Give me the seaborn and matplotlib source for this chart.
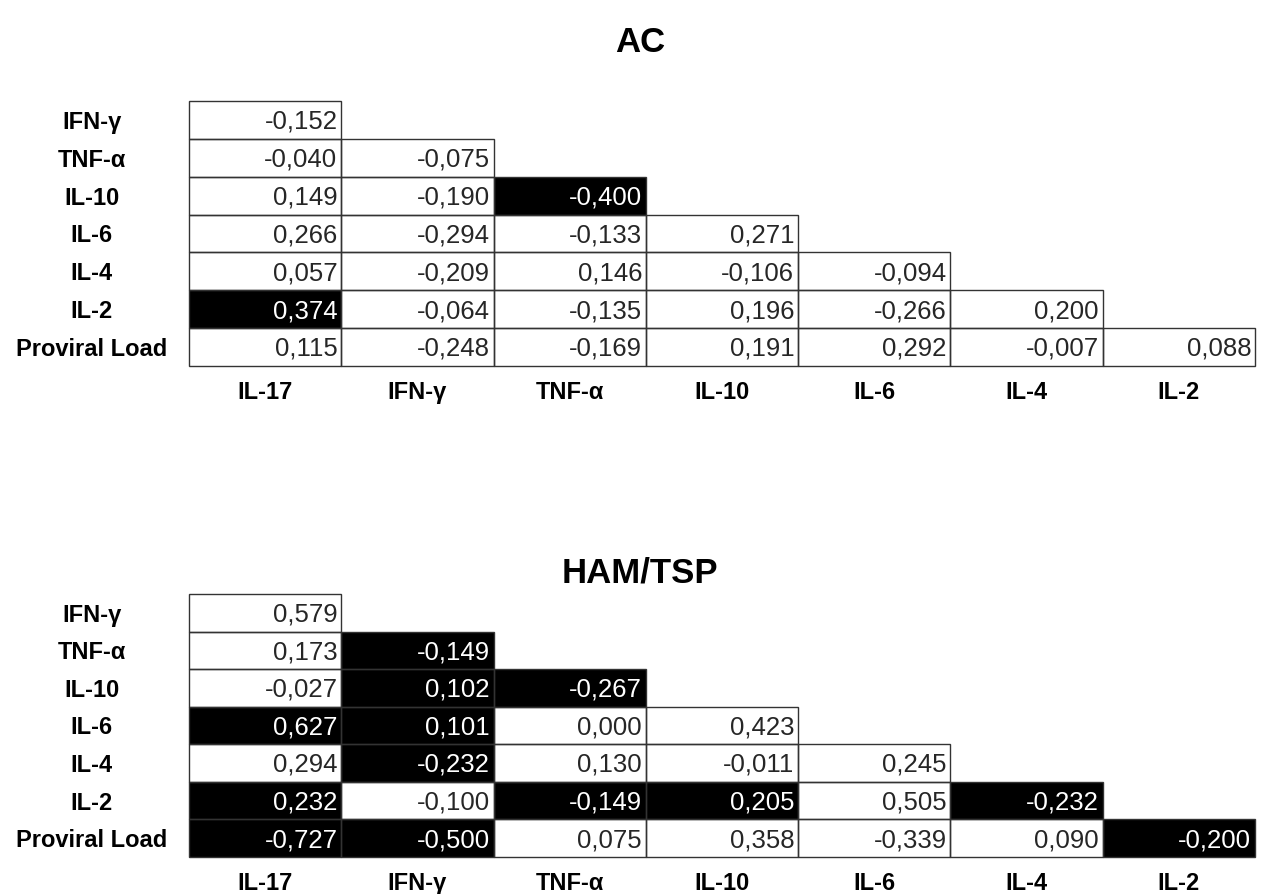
import matplotlib
matplotlib.use("Agg")
import matplotlib.pyplot as plt
from matplotlib.patches import Rectangle
import numpy as np
import pandas as pd
import seaborn as sns

# ─── Dados ────────────────────────────────────────────────────────────────────

row_labels = ["IFN-γ", "TNF-α", "IL-10", "IL-6", "IL-4", "IL-2", "Proviral Load"]
col_labels = ["IL-17", "IFN-γ", "TNF-α", "IL-10", "IL-6", "IL-4", "IL-2"]

# correlações (triângulo inferior, None = vazio)
ac_values = [
    [-0.152, None, None, None, None, None, None],
    [-0.040, -0.075, None, None, None, None, None],
    [0.149, -0.190, -0.400, None, None, None, None],
    [0.266, -0.294, -0.133, 0.271, None, None, None],
    [0.057, -0.209, 0.146, -0.106, -0.094, None, None],
    [0.374, -0.064, -0.135, 0.196, -0.266, 0.200, None],
    [0.115, -0.248, -0.169, 0.191, 0.292, -0.007, 0.088],
]
# células destacadas em preto
ac_highlight = [
    [0, 0, 0, 0, 0, 0, 0],
    [0, 0, 0, 0, 0, 0, 0],
    [0, 0, 1, 0, 0, 0, 0],
    [0, 0, 0, 0, 0, 0, 0],
    [0, 0, 0, 0, 0, 0, 0],
    [1, 0, 0, 0, 0, 0, 0],
    [0, 0, 0, 0, 0, 0, 0],
]

ham_values = [
    [0.579, None, None, None, None, None, None],
    [0.173, -0.149, None, None, None, None, None],
    [-0.027, 0.102, -0.267, None, None, None, None],
    [0.627, 0.101, 0.000, 0.423, None, None, None],
    [0.294, -0.232, 0.130, -0.011, 0.245, None, None],
    [0.232, -0.100, -0.149, 0.205, 0.505, -0.232, None],
    [-0.727, -0.500, 0.075, 0.358, -0.339, 0.090, -0.200],
]
ham_highlight = [
    [0, 0, 0, 0, 0, 0, 0],
    [0, 1, 0, 0, 0, 0, 0],
    [0, 1, 1, 0, 0, 0, 0],
    [1, 1, 0, 0, 0, 0, 0],
    [0, 1, 0, 0, 0, 0, 0],
    [1, 0, 1, 1, 0, 1, 0],
    [1, 1, 0, 0, 0, 0, 1],
]

FONT = ["Liberation Sans", "DejaVu Sans"]
plt.rcParams["font.family"] = FONT

W, H = 1269, 894
fig = plt.figure(figsize=(W / 100, H / 100), dpi=100)


def fmt(v):
    return "" if v is None else f"{v:.3f}".replace(".", ",")


def draw_table(values, highlight, title, top_px, bottom_px, title_px):
    vals = pd.DataFrame(values, index=row_labels, columns=col_labels, dtype=float)
    hl = pd.DataFrame(highlight, index=row_labels, columns=col_labels, dtype=float)
    mask = vals.isna()
    labels = np.array([[fmt(v) for v in row] for row in values])

    left, right = 189, 1255
    ax = fig.add_axes([left / W, 1 - bottom_px / H,
                       (right - left) / W, (bottom_px - top_px) / H])
    sns.heatmap(hl, mask=mask, cmap=["white", "black"], vmin=0, vmax=1,
                annot=labels, fmt="", cbar=False, linewidths=0, ax=ax,
                annot_kws={"size": 18.5, "family": FONT})

    # bordas só nas células preenchidas
    for i, j in zip(*np.where(~mask.values)):
        ax.add_patch(Rectangle((j, i), 1, 1, fill=False, clip_on=False,
                               edgecolor="#333333", linewidth=1.0))

    # números alinhados à direita dentro da célula
    for t in ax.texts:
        x, y = t.get_position()
        t.set_position((x + 0.475, y + 0.05))
        t.set_horizontalalignment("right")

    ax.tick_params(length=0)
    ax.tick_params(axis="y", pad=70)
    ax.tick_params(axis="x", pad=11)
    ax.set_yticklabels(row_labels, rotation=0, ha="center", va="center_baseline",
                       fontsize=17, fontweight="bold")
    ax.set_xticklabels(col_labels, rotation=0, fontsize=17, fontweight="bold")
    ax.set_xlabel("")
    ax.set_ylabel("")

    fig.text(640 / W, 1 - title_px / H, title, ha="center", va="center",
             fontsize=25, fontweight="bold")


draw_table(ac_values, ac_highlight, "AC", 101, 366, 43)
draw_table(ham_values, ham_highlight, "HAM/TSP", 594, 857, 573)

fig.savefig("out.png", dpi=100, facecolor="white")
